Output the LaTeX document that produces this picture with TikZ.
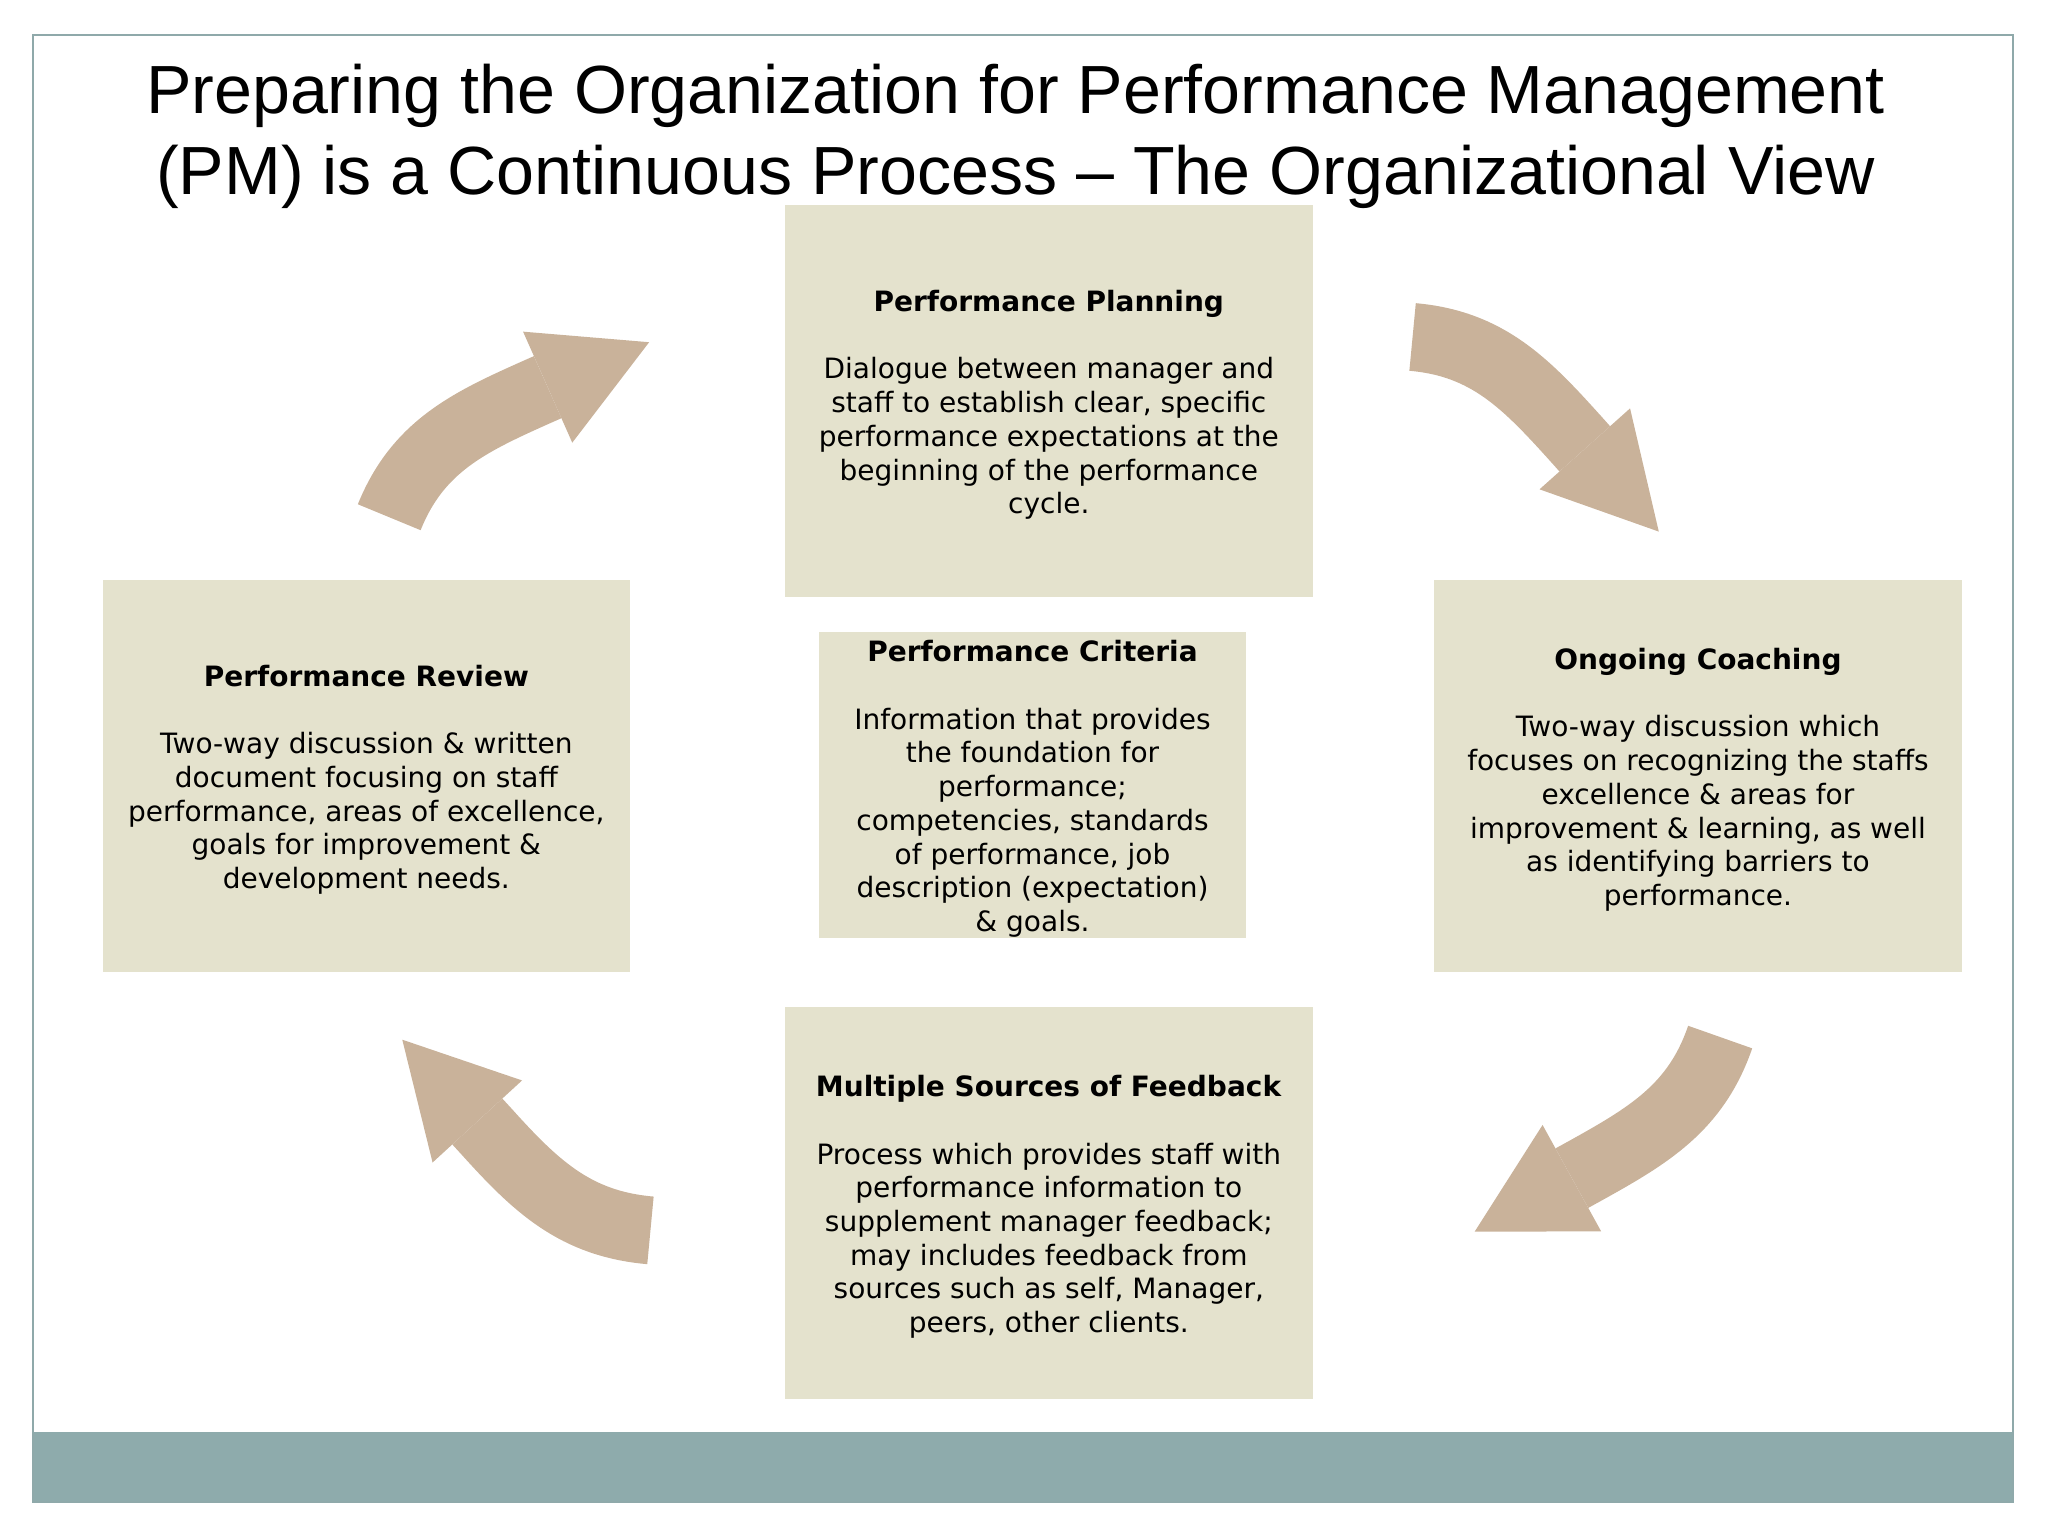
\documentclass[tikz,border=0pt]{standalone}
\usepackage{fontspec}
\newfontfamily\titlefont{Liberation Sans}
\newfontfamily\bodyfont{DejaVu Sans}
\usetikzlibrary{arrows.meta}
\definecolor{boxfill}{HTML}{E4E2CD}
\definecolor{arrowfill}{HTML}{C9B29A}
\definecolor{framecol}{HTML}{8FA9AA}
\definecolor{bandfill}{HTML}{8EABAC}
\begin{document}
\begin{tikzpicture}[x=0.02cm, y=0.02cm]
	\tikzstyle{every node}+=[inner sep=0pt]
	\tikzstyle{box}=[fill=boxfill, align=center, font=\bodyfont\fontsize{12.2}{14.7}\selectfont, minimum width=8.08cm, minimum height=6cm]
	\tikzstyle{turnarrow}=[draw=arrowfill, line width=1.04cm, -{Triangle[length=1.7cm 0 0, width=1.86cm 0 0, line width=0pt]}]
	\useasboundingbox (0,0) rectangle (1568,-1176);
	\fill [bandfill] (25,-1096) rectangle (1541,-1150);
	\draw [framecol, line width=0.9pt] (25,-27) rectangle (1541,-1150);
	\draw (777.5,-104.4) node [align=center, font=\titlefont\fontsize{29.7}{35.2}\selectfont] (title) {Preparing the Organization for Performance Management\\(PM) is a Continuous Process – The Organizational View};
	\draw (803,-307) node [box] (plan) {\rule{0pt}{12.7pt}\textbf{Performance Planning}\\[14.7pt]Dialogue between manager and\\staff to establish clear, specific\\performance expectations at the\\beginning of the performance\\cycle.};
	\draw (280.5,-594) node [box] (review) {\rule{0pt}{12.7pt}\textbf{Performance Review}\\[14.7pt]Two-way discussion \& written\\document focusing on staff\\performance, areas of excellence,\\goals for improvement \&\\development needs.};
	\draw (1300,-594) node [box] (coach) {\rule{0pt}{12.7pt}\textbf{Ongoing Coaching}\\[14.7pt]Two-way discussion which\\focuses on recognizing the staffs\\excellence \& areas for\\improvement \& learning, as well\\as identifying barriers to\\performance.};
	\draw (803,-921) node [box] (feedback) {\rule{0pt}{12.7pt}\textbf{Multiple Sources of Feedback}\\[14.7pt]Process which provides staff with\\performance information to\\supplement manager feedback;\\may includes feedback from\\sources such as self, Manager,\\peers, other clients.};
	\draw (790.5,-601) node [box, minimum width=6.54cm, minimum height=4.68cm] (criteria) {\rule{0pt}{12.7pt}\textbf{Performance Criteria}\\[14.7pt]Information that provides\\the foundation for\\performance;\\competencies, standards\\of performance, job\\description (expectation)\\\& goals.};
	\coordinate (rv-out) at (298,-396);
	\coordinate (pl-neck) at (410.1,-300.5);
	\coordinate (pl-in) at (497,-262);
	\coordinate (pl-out) at (1081.5,-258);
	\coordinate (co-neck) at (1206.6,-336.1);
	\coordinate (co-in) at (1270,-407);
	\coordinate (co-out) at (1317,-794);
	\coordinate (fb-neck) at (1212.2,-897.2);
	\coordinate (fb-in) at (1129,-943);
	\coordinate (fb-out) at (498,-942);
	\coordinate (rv-neck) at (372.2,-866);
	\coordinate (rv-in) at (308,-796);
	\draw [turnarrow] (rv-out) to [out=68, in=204] (pl-neck) -- (pl-in);
	\draw [turnarrow] (pl-out) to [out=-5, in=132] (co-neck) -- (co-in);
	\draw [turnarrow] (co-out) to [out=251, in=29] (fb-neck) -- (fb-in);
	\draw [turnarrow] (fb-out) to [out=175, in=312] (rv-neck) -- (rv-in);
\end{tikzpicture}
\end{document}
